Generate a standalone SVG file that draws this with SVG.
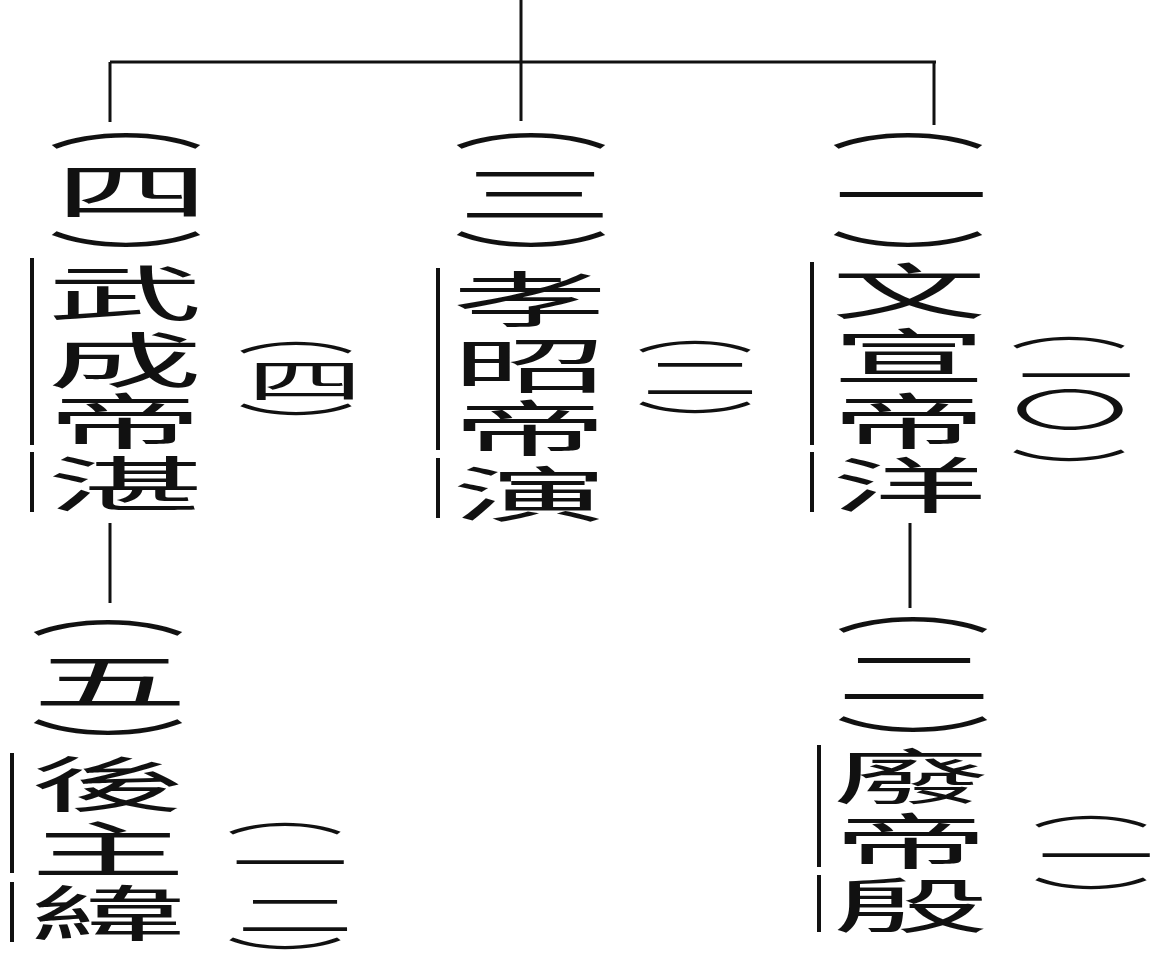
<svg xmlns="http://www.w3.org/2000/svg" width="1164" height="954" viewBox="0 0 1164 954">
<style>
text{font-family:"Noto Sans CJK TC","Noto Sans CJK SC",sans-serif;text-anchor:middle;dominant-baseline:central;fill:#111}
.m{font-size:60px}
.s{font-size:45px}
.ln{stroke:#111;stroke-width:3;fill:none}
.bar{stroke:#111;stroke-width:4;fill:none}
</style>
<rect width="1164" height="954" fill="#fff"/>
<g id="connectors">
<path class="ln" d="M521 0V121M110 62H936M110 62V122M934 62V125M110 523V603M910 523V608"/>
</g>
<g id="n-wucheng">
<text class="m" transform="matrix(2.6 0 0 1 126 118)">︵</text>
<text class="m" transform="matrix(2.6 0 0 1 132 188)">四</text>
<text class="m" transform="matrix(2.6 0 0 1 126 256)">︶</text>
<path class="bar" d="M32 258V445M32 452V512"/>
<text class="m" transform="matrix(2.6 0 0 1 125 290)">武</text>
<text class="m" transform="matrix(2.6 0 0 1 125 357)">成</text>
<text class="m" transform="matrix(2.6 0 0 1 125 418)">帝</text>
<text class="m" transform="matrix(2.6 0 0 1 125 481)">湛</text>
<text class="s" transform="matrix(2.6 0 0 1 296 330)">︵</text>
<text class="s" transform="matrix(2.6 0 0 1 305 378)">四</text>
<text class="s" transform="matrix(2.6 0 0 1 296 422)">︶</text>
</g>
<g id="n-xiaozhao">
<text class="m" transform="matrix(2.6 0 0 1 531 118)">︵</text>
<text class="m" transform="matrix(2.6 0 0 1 535 191)">三</text>
<text class="m" transform="matrix(2.6 0 0 1 531 256)">︶</text>
<path class="bar" d="M438 268V450M438 458V518"/>
<text class="m" transform="matrix(2.6 0 0 1 530 296)">孝</text>
<text class="m" transform="matrix(2.6 0 0 1 530 362)">昭</text>
<text class="m" transform="matrix(2.6 0 0 1 530 425)">帝</text>
<text class="m" transform="matrix(2.6 0 0 1 530 491)">演</text>
<text class="s" transform="matrix(2.6 0 0 1 695 329)">︵</text>
<text class="s" transform="matrix(2.6 0 0 1 700 375)">二</text>
<text class="s" transform="matrix(2.6 0 0 1 695 420)">︶</text>
</g>
<g id="n-wenxuan">
<text class="m" transform="matrix(2.6 0 0 1 908 118)">︵</text>
<text class="m" transform="matrix(2.6 0 0 1 911 192)">一</text>
<text class="m" transform="matrix(2.6 0 0 1 908 256)">︶</text>
<path class="bar" d="M812 262V445M812 452V512"/>
<text class="m" transform="matrix(2.6 0 0 1 909 288)">文</text>
<text class="m" transform="matrix(2.6 0 0 1 909 353)">宣</text>
<text class="m" transform="matrix(2.6 0 0 1 909 418)">帝</text>
<text class="m" transform="matrix(2.6 0 0 1 909 482)">洋</text>
<text class="s" transform="matrix(2.6 0 0 1 1069 325)">︵</text>
<text class="s" transform="matrix(2.6 0 0 1 1076 373)">一</text>
<text class="s" transform="matrix(2.6 0 0 1 1070 407)">〇</text>
<text class="s" transform="matrix(2.6 0 0 1 1069 468)">︶</text>
</g>
<g id="n-houzhu">
<text class="m" transform="matrix(2.6 0 0 1 108 605)">︵</text>
<text class="m" transform="matrix(2.6 0 0 1 110 678)">五</text>
<text class="m" transform="matrix(2.6 0 0 1 108 744)">︶</text>
<path class="bar" d="M12 753V873M12 882V942"/>
<text class="m" transform="matrix(2.6 0 0 1 108 781)">後</text>
<text class="m" transform="matrix(2.6 0 0 1 108 846)">主</text>
<text class="m" transform="matrix(2.6 0 0 1 108 910)">緯</text>
<text class="s" transform="matrix(2.6 0 0 1 285 811)">︵</text>
<text class="s" transform="matrix(2.6 0 0 1 290 860)">一</text>
<text class="s" transform="matrix(2.6 0 0 1 295 912)">二</text>
<text class="s" transform="matrix(2.6 0 0 1 285 956)">︶</text>
</g>
<g id="n-feidi">
<text class="m" transform="matrix(2.6 0 0 1 913 602)">︵</text>
<text class="m" transform="matrix(2.6 0 0 1 914 674)">二</text>
<text class="m" transform="matrix(2.6 0 0 1 913 741)">︶</text>
<path class="bar" d="M819 745V867M819 875V932"/>
<text class="m" transform="matrix(2.6 0 0 1 911 773)">廢</text>
<text class="m" transform="matrix(2.6 0 0 1 911 838)">帝</text>
<text class="m" transform="matrix(2.6 0 0 1 911 902)">殷</text>
<text class="s" transform="matrix(2.6 0 0 1 1091 804)">︵</text>
<text class="s" transform="matrix(2.6 0 0 1 1096 853)">一</text>
<text class="s" transform="matrix(2.6 0 0 1 1091 896)">︶</text>
</g>
</svg>
